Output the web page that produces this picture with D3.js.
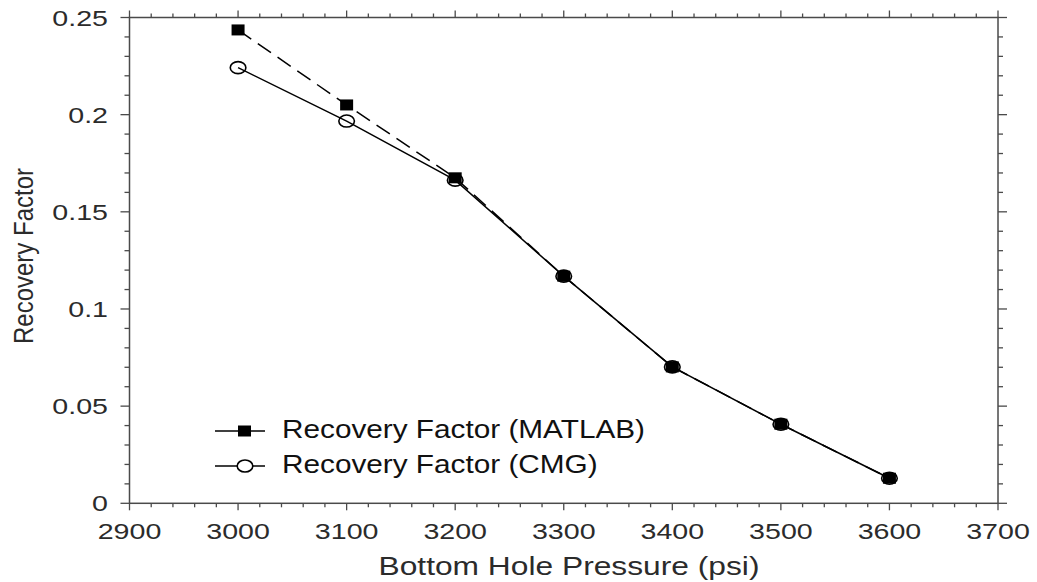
<!DOCTYPE html>
<html>
<head>
<meta charset="utf-8">
<script src="https://cdn.jsdelivr.net/npm/d3@7"></script>
<style>
  body { margin: 0; background: #fff; }
  svg { display: block; font-family: "Liberation Sans", Arial, sans-serif; }
</style>
</head>
<body>
<svg width="1037" height="582"></svg>
<script>
// data
const pressures = [3000, 3100, 3200, 3300, 3400, 3500, 3600];
const matlabRF = [0.2436, 0.2050, 0.1675, 0.1169, 0.0702, 0.0407, 0.0129];
const cmgRF = [0.2242, 0.1967, 0.1663, 0.1169, 0.0702, 0.0407, 0.0129];
const xTicks = [2900, 3000, 3100, 3200, 3300, 3400, 3500, 3600, 3700];
const yTicks = [0, 0.05, 0.1, 0.15, 0.2, 0.25];
const yTickLabels = ['0', '0.05', '0.1', '0.15', '0.2', '0.25'];
const seriesNames = ['Recovery Factor (MATLAB)', 'Recovery Factor (CMG)'];

const svg = d3.select('svg');

// plot box
const BOX = { left: 129.5, right: 998, top: 17.5, bottom: 503.3 };

const x = d3.scaleLinear().domain([2900, 3700]).range([BOX.left, BOX.right]);
const y = d3.scaleLinear().domain([0, 0.25]).range([BOX.bottom, BOX.top]);

const axisColor = '#4a4a4a';
const textColor = '#2b2b2b';

// the original image is stretched sideways, so text gets a horizontal scale
function stretchedText(g, tx, ty, str, size, sx, anchor) {
  return g.append('text')
    .attr('transform', `translate(${tx},${ty}) scale(${sx},1)`)
    .attr('text-anchor', anchor || 'start')
    .attr('font-size', size)
    .attr('fill', textColor)
    .text(str);
}

// minor tick values
const xMinor = d3.range(2900, 3700.1, 20);
const yMinor = d3.range(0, 0.2501, 0.01);

const axes = svg.append('g');

// frame
axes.append('rect')
  .attr('x', BOX.left).attr('y', BOX.top)
  .attr('width', BOX.right - BOX.left).attr('height', BOX.bottom - BOX.top)
  .attr('fill', 'none').attr('stroke', axisColor).attr('stroke-width', 1.5);

// ticks on x (bottom and top, pointing outward)
xMinor.forEach((v, i) => {
  const len = i % 5 === 0 ? 7 : 4;
  axes.append('line')
    .attr('x1', x(v)).attr('x2', x(v))
    .attr('y1', BOX.bottom).attr('y2', BOX.bottom + len)
    .attr('stroke', axisColor).attr('stroke-width', 1.3);
  axes.append('line')
    .attr('x1', x(v)).attr('x2', x(v))
    .attr('y1', BOX.top).attr('y2', BOX.top - len)
    .attr('stroke', axisColor).attr('stroke-width', 1.3);
});

// ticks on y (left and right, pointing outward)
yMinor.forEach((v, i) => {
  const len = i % 5 === 0 ? 9 : 5;
  axes.append('line')
    .attr('x1', BOX.left).attr('x2', BOX.left - len)
    .attr('y1', y(v)).attr('y2', y(v))
    .attr('stroke', axisColor).attr('stroke-width', 1.3);
  axes.append('line')
    .attr('x1', BOX.right).attr('x2', BOX.right + len)
    .attr('y1', y(v)).attr('y2', y(v))
    .attr('stroke', axisColor).attr('stroke-width', 1.3);
});

// tick labels
xTicks.forEach(v => stretchedText(axes, x(v), 539, String(v), 22, 1.3, 'middle'));
yTicks.forEach((v, i) => stretchedText(axes, 108, y(v) + 8, yTickLabels[i], 22, 1.3, 'end'));

// axis titles
stretchedText(axes, 569, 575, 'Bottom Hole Pressure (psi)', 25, 1.27, 'middle');
axes.append('text')
  .attr('transform', `translate(33,256) scale(1.19,1) rotate(-90)`)
  .attr('text-anchor', 'middle')
  .attr('font-size', 24)
  .attr('fill', textColor)
  .text('Recovery Factor');

// series
const matlab = pressures.map((p, i) => ({ p, v: matlabRF[i] }));
const cmg = pressures.map((p, i) => ({ p, v: cmgRF[i] }));

const line = d3.line().x(d => x(d.p)).y(d => y(d.v));

const plot = svg.append('g');

plot.append('path')
  .datum(matlab)
  .attr('d', line)
  .attr('fill', 'none')
  .attr('stroke', '#000')
  .attr('stroke-width', 1.5)
  .attr('stroke-dasharray', '16,8');

plot.append('path')
  .datum(cmg)
  .attr('d', line)
  .attr('fill', 'none')
  .attr('stroke', '#000')
  .attr('stroke-width', 1.5);

plot.selectAll('.cmg')
  .data(cmg)
  .join('ellipse')
  .classed('cmg', true)
  .attr('cx', d => x(d.p))
  .attr('cy', d => y(d.v))
  .attr('rx', 7.8).attr('ry', 6)
  .attr('fill', 'none')
  .attr('stroke', '#000')
  .attr('stroke-width', 1.6);

plot.selectAll('.matlab')
  .data(matlab)
  .join('rect')
  .classed('matlab', true)
  .attr('x', d => x(d.p) - 6.5)
  .attr('y', d => y(d.v) - 5.5)
  .attr('width', 13).attr('height', 11)
  .attr('fill', '#000');

// legend
const legend = svg.append('g');
const legendRows = [431, 466];

legendRows.forEach((ly, i) => {
  legend.append('line')
    .attr('x1', 215).attr('x2', 265)
    .attr('y1', ly).attr('y2', ly)
    .attr('stroke', '#000').attr('stroke-width', 1.5);
  if (i === 0) {
    legend.append('rect')
      .attr('x', 238).attr('y', ly - 5.5)
      .attr('width', 13).attr('height', 11)
      .attr('fill', '#000');
  } else {
    legend.append('ellipse')
      .attr('cx', 245).attr('cy', ly)
      .attr('rx', 7.8).attr('ry', 6)
      .attr('fill', '#fff').attr('stroke', '#000').attr('stroke-width', 1.6);
  }
  stretchedText(legend, 282, ly + 6.5, seriesNames[i], 25, 1.19, 'start')
    .attr('fill', '#111');
});
</script>
</body>
</html>
